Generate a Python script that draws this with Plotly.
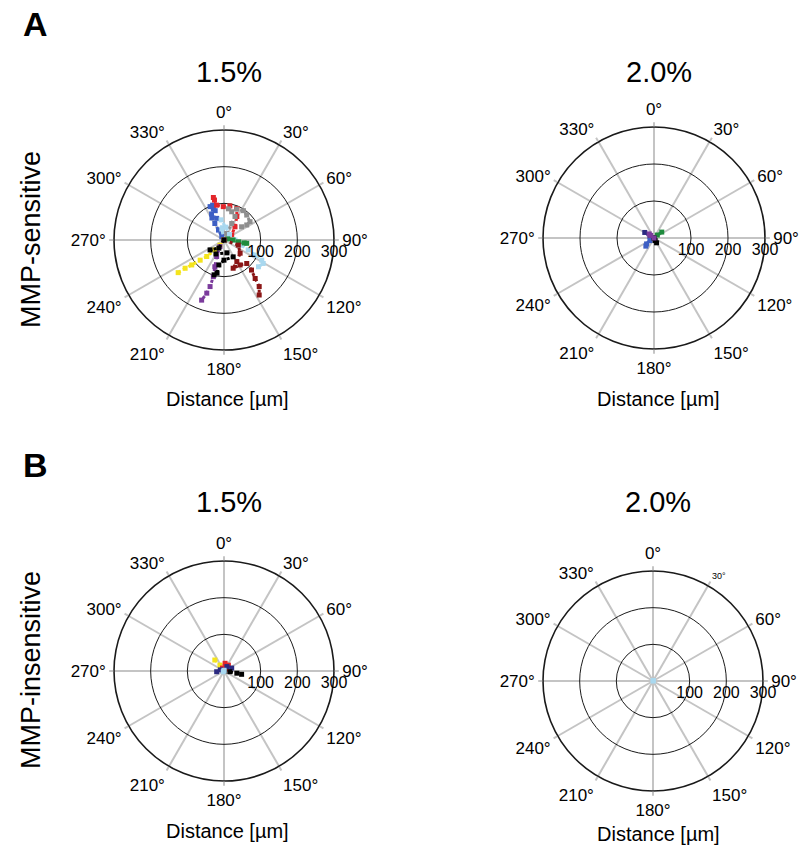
import numpy as np
import plotly.graph_objects as go

# ---------------- data (displacements in µm, x = east, y = north) ----------------
angle_ticks = [0, 30, 60, 90, 120, 150, 180, 210, 240, 270, 300, 330]
angle_labels = ["0°", "30°", "60°", "90°", "120°", "150°", "180°", "210°", "240°", "270°", "300°", "330°"]
radial_ticks = [100, 200, 300]
radial_labels = ["100", "200", "300"]

panel_titles = ["1.5%", "2.0%", "1.5%", "2.0%"]
row_titles = ["MMP-sensitive", "MMP-insensitive"]
x_title = "Distance [µm]"

# Panel A, 1.5 %
a15_blue_x = [0, -6, -15, -25, -20, -34, -29, -38, -31, -24, -33]
a15_blue_y = [0, 9, 27, 45, 59, 71, 84, 91, 95, 80, 60]
a15_red_x = [0, 21, 30, 35, 35, 16, -2, -20, -26, -29]
a15_red_y = [0, 14, 36, 64, 86, 93, 91, 95, 109, 116]
a15_gray_x = [0, 7, 21, 30, 21, 12, 35, 53, 62, 71, 62, 48]
a15_gray_y = [0, 18, 45, 64, 77, 85, 84, 80, 68, 50, 41, 36]
a15_lblue_x = [0, -6, -8, 5, 15, 30, 48, 66, 85, 103, 107, 94]
a15_lblue_y = [0, 30, 55, 35, 15, 0, -14, -27, -41, -55, -64, -73]
a15_green_x = [0, 10, 25, 40, 55, 62]
a15_green_y = [0, 3, 0, -5, -8, -9]
a15_maroon_x = [0, 39, 44, 35, 25, 44, 62, 75, 85, 96, 96]
a15_maroon_y = [0, -14, -36, -59, -77, -68, -64, -82, -105, -127, -150]
a15_black_x = [0, -14, -38, -22, 8, 25, 0, -14, -19, -27]
a15_black_y = [0, -22, -27, -38, -35, -46, -55, -68, -90, -95]
a15_yellow_x = [0, -11, -25, -47, -65, -88, -106, -125]
a15_yellow_y = [0, -14, -27, -45, -55, -68, -77, -89]
a15_purple_x = [0, -11, -20, -25, -29, -38, -47, -61]
a15_purple_y = [0, -18, -45, -73, -100, -127, -145, -164]

# Panel A, 2.0 %
a20_navy_x = [0, -11, -25]
a20_navy_y = [0, 5, 15]
a20_blue_x = [0, -11, -20, -22]
a20_blue_y = [0, -7, -16, -22]
a20_green_x = [0, 9, 21]
a20_green_y = [0, 8, 16]
a20_black_x = [0, 3, 7]
a20_black_y = [0, -7, -13]
a20_purple_x = [0, -9, -13]
a20_purple_y = [0, 7, 11]

# Panel B, 1.5 %
b15_yellow_x = [0, -11, -25]
b15_yellow_y = [0, 16, 30]
b15_red_x = [0, -4, 3, 12, 6]
b15_red_y = [0, 8, 21, 16, 5]
b15_navy_x = [0, -20, -10, 8, 21]
b15_navy_y = [0, -2, 3, 12, 8]
b15_black_x = [0, 16, 35, 48]
b15_black_y = [0, -2, -6, -9]
b15_lblue_x = [0, -2, 0]
b15_lblue_y = [0, -2, 2]

# Panel B, 2.0 %
b20_lblue_x = [0, 1]
b20_lblue_y = [0, 1]

COL = dict(blue="#3d5fc4", red="#e3262b", gray="#8e8e8e", lblue="#a9d8ef",
           green="#1f8b3d", maroon="#8b1616", black="#000000", yellow="#f4e41c",
           purple="#7b3b9c", navy="#2b2a80")

panels = {
    "polar": [(a15_blue_x, a15_blue_y, "blue"), (a15_red_x, a15_red_y, "red"),
              (a15_gray_x, a15_gray_y, "gray"), (a15_lblue_x, a15_lblue_y, "lblue"),
              (a15_green_x, a15_green_y, "green"), (a15_maroon_x, a15_maroon_y, "maroon"),
              (a15_yellow_x, a15_yellow_y, "yellow"), (a15_purple_x, a15_purple_y, "purple"),
              (a15_black_x, a15_black_y, "black")],
    "polar2": [(a20_navy_x, a20_navy_y, "navy"), (a20_blue_x, a20_blue_y, "blue"),
               (a20_green_x, a20_green_y, "green"), (a20_black_x, a20_black_y, "black"),
               (a20_purple_x, a20_purple_y, "purple")],
    "polar3": [(b15_yellow_x, b15_yellow_y, "yellow"), (b15_red_x, b15_red_y, "red"),
               (b15_navy_x, b15_navy_y, "navy"), (b15_black_x, b15_black_y, "black"),
               (b15_lblue_x, b15_lblue_y, "lblue")],
    "polar4": [(b20_lblue_x, b20_lblue_y, "lblue")],
}

W, H = 801, 850
fig = go.Figure()

for sub, tracks in panels.items():
    for xs, ys, c in tracks:
        xs = np.array(xs, float)
        ys = np.array(ys, float)
        r = np.hypot(xs, ys)
        th = np.degrees(np.arctan2(xs, ys)) % 360
        fig.add_trace(go.Scatterpolar(
            r=r, theta=th, subplot=sub, mode="lines+markers",
            line=dict(color=COL[c], width=3, dash="dot"),
            marker=dict(color=COL[c], size=5, symbol="square"),
            showlegend=False, hoverinfo="skip"))

FONT = "Liberation Sans, Arial, sans-serif"


def polar_layout(cx, cy, rad, labels):
    return dict(
        domain=dict(x=[(cx - rad) / W, (cx + rad) / W],
                    y=[(H - cy - rad) / H, (H - cy + rad) / H]),
        bgcolor="white",
        radialaxis=dict(range=[0, 300], tickvals=radial_ticks, ticktext=radial_labels,
                        showline=False, ticks="", angle=0, side="clockwise",
                        gridcolor="#1a1a1a", gridwidth=1.3,
                        tickfont=dict(family=FONT, size=16, color="black")),
        angularaxis=dict(rotation=90, direction="clockwise",
                         tickvals=angle_ticks, ticktext=labels,
                         showline=True, linecolor="#1a1a1a", linewidth=1.6,
                         gridcolor="#c4c4c4", gridwidth=1.5,
                         ticks="outside", ticklen=4, tickcolor="#c4c4c4", tickwidth=1.5,
                         tickfont=dict(family=FONT, size=17, color="black")),
    )


labels_b20 = list(angle_labels)
labels_b20[1] = "<span style='font-size:9px'>30°</span>"

fig.update_layout(
    width=W, height=H, margin=dict(l=0, r=0, t=0, b=0),
    paper_bgcolor="white", plot_bgcolor="white",
    polar=polar_layout(224, 240, 110, angle_labels),
    polar2=polar_layout(654, 238, 111, angle_labels),
    polar3=polar_layout(224, 671, 110, angle_labels),
    polar4=polar_layout(653, 681, 110, labels_b20),
)

ann = []


def add_text(x, y, text, size, bold=False, angle=0):
    ann.append(dict(x=x / W, y=1 - y / H, xref="paper", yref="paper", text=text,
                    showarrow=False, textangle=angle, xanchor="center", yanchor="middle",
                    font=dict(family=FONT, size=size, color="black")))
    if bold:
        ann[-1]["text"] = "<b>" + text + "</b>"


add_text(35, 24, "A", 34, bold=True)
add_text(35, 465, "B", 34, bold=True)
add_text(229, 72, panel_titles[0], 29)
add_text(659, 72, panel_titles[1], 29)
add_text(229, 502, panel_titles[2], 29)
add_text(658, 502, panel_titles[3], 29)
add_text(31, 240, row_titles[0], 27, angle=-90)
add_text(31, 670, row_titles[1], 27, angle=-90)
add_text(227, 399, x_title, 20)
add_text(658, 399, x_title, 20)
add_text(227, 831, x_title, 20)
add_text(658, 834, x_title, 20)

fig.update_layout(annotations=ann)
fig.write_html("out.html")
